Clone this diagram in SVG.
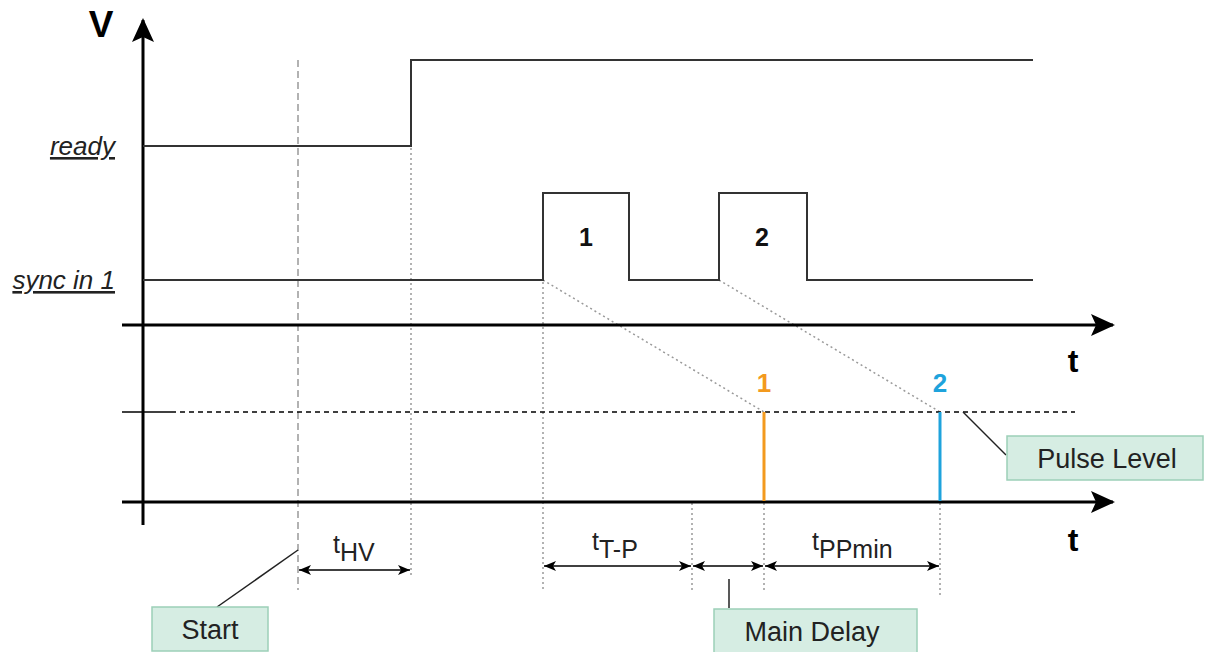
<svg xmlns="http://www.w3.org/2000/svg" width="1207" height="652" viewBox="0 0 1207 652">
<style>
.axis{stroke:#000;stroke-width:3;fill:none}
.sig{stroke:#333;stroke-width:2;fill:none}
.dash{stroke:#999;stroke-width:1.5;stroke-dasharray:7 4;fill:none}
.dot{stroke:#999;stroke-width:1.5;stroke-dasharray:2 3;fill:none}
.lvl{stroke:#000;stroke-width:1.5;stroke-dasharray:5 4;fill:none}
.dim{stroke:#000;stroke-width:1.5;fill:none;marker-start:url(#ah);marker-end:url(#ah)}
.lead{stroke:#222;stroke-width:1.5;fill:none}
.box{fill:#d6ede3;stroke:#9ccfb8;stroke-width:1.5}
.lbl{font-family:"Liberation Sans",Arial,sans-serif;fill:#222}
.big{font-family:"Liberation Sans",Arial,sans-serif;font-weight:bold}
</style>
<defs>
<marker id="ah" viewBox="0 0 12 10" refX="12" refY="5" markerWidth="12" markerHeight="10" markerUnits="userSpaceOnUse" orient="auto-start-reverse">
<path d="M0,0 L12,5 L0,10 L3,5 Z" fill="#000"/>
</marker>
<marker id="axh" viewBox="0 0 24 22" refX="22" refY="11" markerWidth="24" markerHeight="22" markerUnits="userSpaceOnUse" orient="auto">
<path d="M0,0 L24,11 L0,22 L5,11 Z" fill="#000"/>
</marker>
</defs>

<g id="guides">
<line class="dash" x1="298" y1="60" x2="298" y2="590"/>
<line class="dot" x1="411" y1="148" x2="411" y2="576"/>
<line class="dot" x1="543" y1="282" x2="543" y2="590"/>
<line class="dot" x1="692" y1="503" x2="692" y2="592"/>
<line class="dot" x1="764" y1="503" x2="764" y2="592"/>
<line class="dot" x1="940" y1="503" x2="940" y2="596"/>
<line class="dot" x1="543" y1="280" x2="764" y2="412"/>
<line class="dot" x1="719" y1="280" x2="940" y2="412"/>
</g>

<g id="axes">
<line class="axis" x1="143" y1="525" x2="143" y2="20" marker-end="url(#axh)"/>
<line class="axis" x1="122" y1="325" x2="1113" y2="325" marker-end="url(#axh)"/>
<line class="axis" x1="122" y1="502" x2="1113" y2="502" marker-end="url(#axh)"/>
<text class="big" x="101" y="37" font-size="37" text-anchor="middle">V</text>
<text class="big" x="1073" y="372" font-size="32" text-anchor="middle">t</text>
<text class="big" x="1073" y="551" font-size="32" text-anchor="middle">t</text>
</g>

<g id="ready">
<polyline class="sig" points="143,146 411,146 411,60 1033,60"/>
<text class="lbl" x="115" y="155" font-size="26" font-style="italic" text-anchor="end" text-decoration="underline">ready</text>
</g>

<g id="sync">
<polyline class="sig" points="143,280 543,280 543,193 629,193 629,280 719,280 719,193 807,193 807,280 1033,280"/>
<text class="lbl" x="115" y="289" font-size="26" font-style="italic" text-anchor="end" text-decoration="underline">sync in 1</text>
<text class="big" x="586" y="246" font-size="25" text-anchor="middle" fill="#111">1</text>
<text class="big" x="762" y="246" font-size="25" text-anchor="middle" fill="#111">2</text>
</g>

<g id="pulse-level">
<line x1="122" y1="412" x2="171" y2="412" stroke="#000" stroke-width="1.5"/>
<line class="lvl" x1="171" y1="412" x2="1075" y2="412"/>
</g>

<g id="pulses">
<line x1="764" y1="412" x2="764" y2="501" stroke="#f39a1e" stroke-width="3"/>
<line x1="940" y1="412" x2="940" y2="501" stroke="#1ea3dc" stroke-width="3"/>
<text class="big" x="764" y="392" font-size="26" text-anchor="middle" fill="#f39a1e">1</text>
<text class="big" x="940" y="392" font-size="26" text-anchor="middle" fill="#1ea3dc">2</text>
</g>

<g id="connectors">
<line class="dim" x1="299" y1="570" x2="410" y2="570"/>
<line class="dim" x1="544" y1="566" x2="691" y2="566"/>
<line class="dim" x1="693" y1="566" x2="763" y2="566"/>
<line class="dim" x1="765" y1="566" x2="939" y2="566"/>
<line class="lead" x1="217" y1="607" x2="298" y2="550"/>
<line class="lead" x1="729" y1="579" x2="729" y2="608"/>
<line class="lead" x1="963" y1="412" x2="1006" y2="455"/>
</g>

<g id="dim-labels" class="lbl" font-size="25">
<text x="333" y="553">t<tspan dy="8">HV</tspan></text>
<text x="592" y="550">t<tspan dy="8">T-P</tspan></text>
<text x="812" y="550">t<tspan dy="8">PPmin</tspan></text>
</g>

<g id="start">
<rect class="box" x="152" y="607" width="116" height="44"/>
<text class="lbl" x="210" y="639" font-size="27" text-anchor="middle">Start</text>
</g>

<g id="main-delay">
<rect class="box" x="714" y="609" width="203" height="44"/>
<text class="lbl" x="812" y="641" font-size="27" text-anchor="middle">Main Delay</text>
</g>

<g id="pulse-level-box">
<rect class="box" x="1007" y="436" width="196" height="44"/>
<text class="lbl" x="1107" y="468" font-size="27" text-anchor="middle">Pulse Level</text>
</g>
</svg>
